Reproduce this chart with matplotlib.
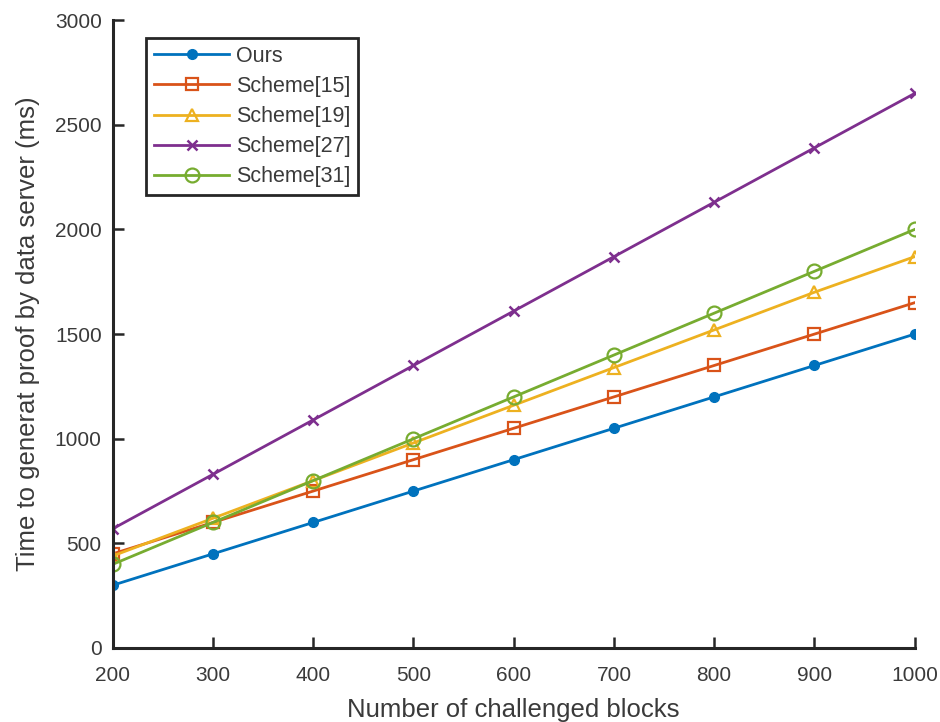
import numpy as np
import matplotlib.pyplot as plt

plt.rcParams['font.family'] = ['Liberation Sans', 'DejaVu Sans']

blocks = [200, 300, 400, 500, 600, 700, 800, 900, 1000]
ours = [300, 450, 600, 750, 900, 1050, 1200, 1350, 1500]
scheme15 = [450, 600, 750, 900, 1050, 1200, 1350, 1500, 1650]
scheme19 = [440, 620, 800, 980, 1160, 1340, 1520, 1700, 1870]
scheme27 = [570, 830, 1090, 1350, 1610, 1870, 2130, 2390, 2650]
scheme31 = [400, 600, 800, 1000, 1200, 1400, 1600, 1800, 2000]

txt = '#3a3a3a'

fig = plt.figure(figsize=(9.4, 7.22), dpi=100)
ax = fig.add_axes([0.120, 0.1025, 0.853, 0.8695])

ax.plot(blocks, ours, '-o', color='#0072BD', lw=2, ms=7, mfc='#0072BD', label='Ours')
ax.plot(blocks, scheme15, '-s', color='#D95319', lw=2, ms=8, mfc='none', mew=1.6, label='Scheme[15]')
ax.plot(blocks, scheme19, '-^', color='#EDB120', lw=2, ms=9, mfc='none', mew=1.6, label='Scheme[19]')
ax.plot(blocks, scheme27, '-x', color='#7E2F8E', lw=2, ms=7, mew=1.8, label='Scheme[27]')
ax.plot(blocks, scheme31, '-o', color='#77AC30', lw=2, ms=10, mfc='none', mew=1.6, label='Scheme[31]')

ax.set_xlim(200, 1000)
ax.set_ylim(0, 3000)
ax.set_xticks(np.arange(200, 1001, 100))
ax.set_yticks(np.arange(0, 3001, 500))
ax.spines['top'].set_visible(False)
ax.spines['right'].set_visible(False)
for s in ['left', 'bottom']:
    ax.spines[s].set_linewidth(2.2)
    ax.spines[s].set_color('#262626')
ax.tick_params(direction='in', length=8, width=1.8, colors='#262626',
               labelcolor=txt, labelsize=15)
ax.tick_params(axis='x', pad=13)
ax.tick_params(axis='y', pad=8)

ax.set_xlabel('Number of challenged blocks', fontsize=18.5, color=txt, labelpad=9)
ax.set_ylabel('Time to generat proof by data server (ms)', fontsize=18.5, color=txt, labelpad=11)

leg = ax.legend(loc='upper left', bbox_to_anchor=(0.042, 0.971), borderaxespad=0,
                fontsize=15.5, fancybox=False, framealpha=1, edgecolor='#262626',
                handlelength=3.5, handletextpad=0.3, borderpad=0.35, labelspacing=0.42)
leg.get_frame().set_linewidth(2)
for t in leg.get_texts():
    t.set_color(txt)

fig.savefig('out.png', dpi=100)
